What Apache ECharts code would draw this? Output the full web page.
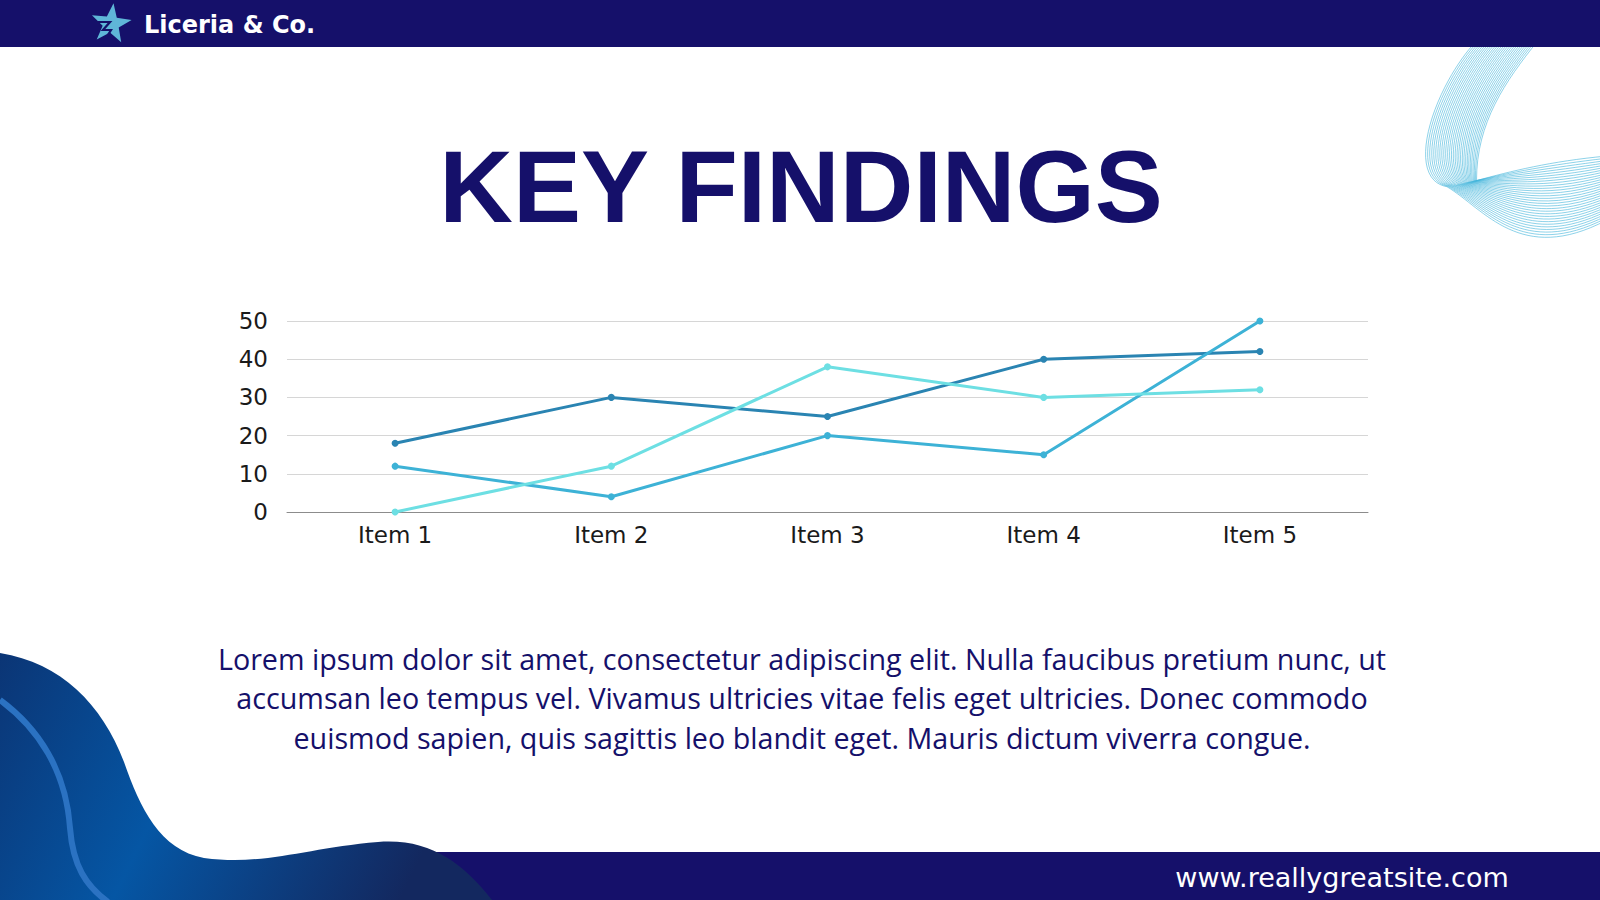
<!DOCTYPE html>
<html><head><meta charset="utf-8">
<script src="https://cdn.jsdelivr.net/npm/echarts@6/dist/echarts.min.js"></script>
<style>html,body{margin:0;padding:0;background:#fff;overflow:hidden}#c{width:1600px;height:900px}</style>
</head><body><div id="c"></div>
<script>
// ---- data ----
const categories = ['Item 1', 'Item 2', 'Item 3', 'Item 4', 'Item 5'];
const seriesA = [18, 30, 25, 40, 42];
const seriesB = [12, 4, 20, 15, 50];
const seriesC = [0, 12, 38, 30, 32];
const yMin = 0, yMax = 50, yStep = 10;
const brandText = 'Liceria & Co.';
const titleText = 'KEY FINDINGS';
const siteText = 'www.reallygreatsite.com';
const bodyLines = [
  'Lorem ipsum dolor sit amet, consectetur adipiscing elit. Nulla faucibus pretium nunc, ut',
  'accumsan leo tempus vel. Vivamus ultricies vitae felis eget ultricies. Donec commodo',
  'euismod sapien, quis sagittis leo blandit eget. Mauris dictum viverra congue.'
];

// ---- decorative graphics ----
const NAVY = '#15106a';
const S = 1600 / 1568;
function sc(v) { return Math.round(v * S * 10) / 10; }

const decoPaths = [];
// bottom-left wave
decoPaths.push({
  type: 'path',
  shape: { pathData: 'M0,653 C61,663 102,704 124,762 C140,808 160,850 204,858 C265,866 306,848 378,842 C429,838 462,862 492,900 L0,900 Z' },
  style: { fill: { type: 'linear', x: 0, y: 0, x2: 1, y2: 0.25, global: false, colorStops: [
    { offset: 0, color: '#0b3575' }, { offset: 0.45, color: '#0556a4' }, { offset: 1, color: '#13285f' } ] } }
});
decoPaths.push({
  type: 'path',
  shape: { pathData: 'M0,700 C38,728 66,770 70,828 C73,866 86,886 108,902' },
  style: { fill: 'none', stroke: '#2b72c2', lineWidth: 6 }
});
// top-right line fan
const N = 30;
for (let i = 0; i < N; i++) {
  const t = i / (N - 1);
  const lerp = (a, b) => a + (b - a) * t;
  const P0 = [lerp(1447, 1507), 40];
  const C1 = [lerp(1405, 1475), lerp(85, 80)];
  const C2 = [lerp(1375, 1447), lerp(175, 120)];
  const P = [lerp(1418, 1447), lerp(183, 177)];
  const D1 = [lerp(1455, 1480), lerp(205, 168)];
  const D2 = [lerp(1490, 1520), lerp(260, 158)];
  const E = [1574, lerp(216, 153)];
  const f = (p) => sc(p[0]) + ',' + sc(p[1]);
  const pd = 'M' + f(P0) + ' C' + f(C1) + ' ' + f(C2) + ' ' + f(P) + ' C' + f(D1) + ' ' + f(D2) + ' ' + f(E);
  decoPaths.push({
    type: 'path',
    shape: { pathData: pd },
    style: { fill: 'none', stroke: '#3fb3da', lineWidth: 0.8, opacity: 0.75 }
  });
}

function starPoints(cx, cy, R, r, rot) {
  const pts = [];
  for (let k = 0; k < 10; k++) {
    const rad = (k % 2 === 0 ? R : r);
    const a = rot + k * Math.PI / 5 - Math.PI / 2;
    pts.push([cx + rad * Math.cos(a), cy + rad * Math.sin(a)]);
  }
  return pts;
}

const graphics = [
  { type: 'rect', silent: true, z: 2, shape: { x: 0, y: 0, width: 1600, height: 47 }, style: { fill: NAVY } },
  { type: 'polygon', silent: true, z: 3, shape: { points: starPoints(111, 24, 21, 8.5, 0.12) }, style: { fill: '#5fb6d8' } },
  { type: 'polyline', silent: true, z: 4, shape: { points: [[98, 22], [110, 22], [103, 30], [111, 30], [106, 38]] }, style: { stroke: NAVY, lineWidth: 2.2, fill: null } },
  { type: 'text', z: 3, style: { text: brandText, x: 144, y: 25, fill: '#ffffff', font: 'bold 24px "DejaVu Sans"', textAlign: 'left', textVerticalAlign: 'middle' } },
  { type: 'text', z: 3, style: { text: titleText, x: 801, y: 187, fill: NAVY, font: 'bold 102px "Liberation Sans"', textAlign: 'center', textVerticalAlign: 'middle' } },
  { type: 'rect', silent: true, z: 0, shape: { x: 430, y: 852, width: 1170, height: 48 }, style: { fill: NAVY } },
  { type: 'text', z: 5, style: { text: siteText, x: 1342, y: 877, fill: '#ffffff', font: '27px "DejaVu Sans"', textAlign: 'center', textVerticalAlign: 'middle' } }
];
bodyLines.forEach((ln, i) => {
  graphics.push({ type: 'text', z: 3, style: { text: ln, x: 802, y: 658 + i * 39.7, fill: NAVY, font: '28.7px "Open Sans"', textAlign: 'center', textVerticalAlign: 'middle' } });
});

// ---- chart ----
const chart = echarts.init(document.getElementById('c'), null, { renderer: 'svg', width: 1600, height: 900 });
const lineStyleFor = (c) => ({
  type: 'line', symbol: 'circle', symbolSize: 7, showSymbol: true,
  lineStyle: { width: 3, color: c }, itemStyle: { color: c }, z: 5
});
chart.setOption({
  animation: false,
  backgroundColor: '#ffffff',
  grid: { left: 287, right: 232, top: 321, bottom: 388, containLabel: false },
  xAxis: {
    type: 'category', data: categories, boundaryGap: true,
    axisLine: { show: true, lineStyle: { color: '#8c8c8c', width: 1 } },
    axisTick: { show: false },
    axisLabel: { color: '#1a1a1a', fontSize: 23, fontFamily: 'DejaVu Sans', margin: 11 },
    splitLine: { show: false }
  },
  yAxis: {
    type: 'value', min: yMin, max: yMax, interval: yStep,
    axisLine: { show: false }, axisTick: { show: false },
    axisLabel: { color: '#1a1a1a', fontSize: 23, fontFamily: 'DejaVu Sans', margin: 19 },
    splitLine: { show: true, lineStyle: { color: '#d6d6d6', width: 1 } }
  },
  series: [
    Object.assign(lineStyleFor('#2a84b2'), { name: 'A', data: seriesA }),
    Object.assign(lineStyleFor('#3db2d6'), { name: 'B', data: seriesB }),
    Object.assign(lineStyleFor('#6ddfe3'), { name: 'C', data: seriesC }),
    {
      type: 'custom', coordinateSystem: 'none', silent: true, z: 1,
      data: [0],
      renderItem: function () {
        return { type: 'group', children: decoPaths };
      }
    }
  ],
  graphic: graphics
});
</script></body></html>
